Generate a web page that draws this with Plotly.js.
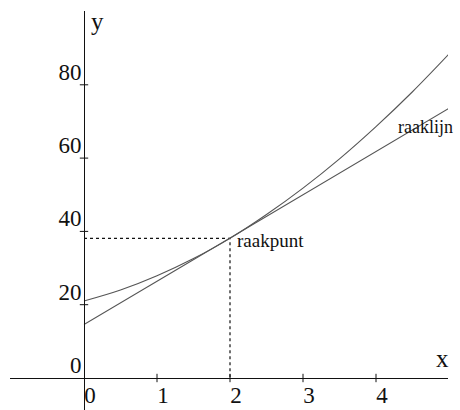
<!DOCTYPE html>
<html>
<head>
<meta charset="utf-8">
<script src="https://cdn.plot.ly/plotly-3.0.1.min.js"></script>
<style>
  html, body { margin: 0; padding: 0; background: #fff; }
  #chart { width: 460px; height: 410px; }
</style>
</head>
<body>
<div id="chart"></div>
<script>
'use strict';

// curve (x, y)
const curveX = [0, 0.5, 1, 1.5, 2, 2.5, 3, 3.5, 4, 4.5, 5];
const curveY = [21, 24.0, 27.9, 32.6, 38.1, 44.6, 51.8, 59.8, 68.6, 78.1, 88.4];

// tangent line (raaklijn) through the touch point
const tangentX = [0, 5];
const tangentY = [14.6, 73.6];

// touch point (raakpunt) with the dotted guide lines
const guideX = [0, 2, 2];
const guideY = [38.1, 38.1, 0];

const xTicks = [0, 1, 2, 3, 4];
const xTickText = ['0', '1', '2', '3', '4'];
const yTicks = [0, 20, 40, 60, 80];
const yTickText = ['0', '20', '40', '60', '80'];

const SERIF = 'Liberation Serif, Times New Roman, serif';
const INK = '#111';

const traces = [
  { type: 'scatter', mode: 'lines', x: guideX, y: guideY,
    line: { color: INK, width: 1.2, dash: 'dot' }, hoverinfo: 'skip' },
  { type: 'scatter', mode: 'lines', x: tangentX, y: tangentY,
    line: { color: '#555', width: 1.1 }, hoverinfo: 'skip' },
  { type: 'scatter', mode: 'lines', x: curveX, y: curveY,
    line: { color: '#555', width: 1.1, shape: 'spline' }, hoverinfo: 'skip' },
  // small cross ticks on both axes
  { type: 'scatter', mode: 'markers', x: xTicks.slice(1), y: xTicks.slice(1).map(() => 0),
    marker: { symbol: 'line-ns', size: 6, line: { color: INK, width: 1 } }, hoverinfo: 'skip' },
  { type: 'scatter', mode: 'markers', x: yTicks.slice(1).map(() => 0), y: yTicks.slice(1),
    marker: { symbol: 'line-ew', size: 6, line: { color: INK, width: 1 } }, hoverinfo: 'skip' },
];

const layout = {
  width: 460, height: 410,
  margin: { l: 10, r: 12, t: 11, b: 0 },
  paper_bgcolor: '#fff', plot_bgcolor: '#fff',
  showlegend: false,
  xaxis: {
    range: [-74 / 73, 364 / 73],
    anchor: 'free', position: 32 / 399,
    showline: true, linecolor: INK, linewidth: 1,
    showgrid: false, zeroline: false, ticks: '',
    tickvals: xTicks, ticktext: xTickText,
    tickfont: { family: SERIF, size: 23, color: INK },
    ticklabelshift: 6, ticklabelstandoff: -4,
  },
  yaxis: {
    range: [-32 / 3.665, 367 / 3.665],
    anchor: 'free', position: 74 / 438,
    showline: true, linecolor: INK, linewidth: 1,
    showgrid: false, zeroline: false, ticks: '',
    tickvals: yTicks, ticktext: yTickText,
    tickfont: { family: SERIF, size: 23, color: INK },
    ticklabelshift: -13, ticklabelstandoff: -2,
  },
  annotations: [
    { x: 2.07, y: 37.4, text: 'raakpunt', xanchor: 'left', yanchor: 'middle', showarrow: false,
      font: { family: SERIF, size: 19, color: INK } },
    { x: 4.28, y: 68.6, text: 'raaklijn', xanchor: 'left', yanchor: 'middle', showarrow: false,
      font: { family: SERIF, size: 18, color: INK } },
    { x: 0.18, y: 97.2, text: 'y', xanchor: 'center', yanchor: 'middle', showarrow: false,
      font: { family: SERIF, size: 25, color: INK } },
    { x: 4.91, y: 5.2, text: 'x', xanchor: 'center', yanchor: 'middle', showarrow: false,
      font: { family: SERIF, size: 25, color: INK } },
  ],
};

Plotly.newPlot('chart', traces, layout, { staticPlot: true, displayModeBar: false });
</script>
</body>
</html>
